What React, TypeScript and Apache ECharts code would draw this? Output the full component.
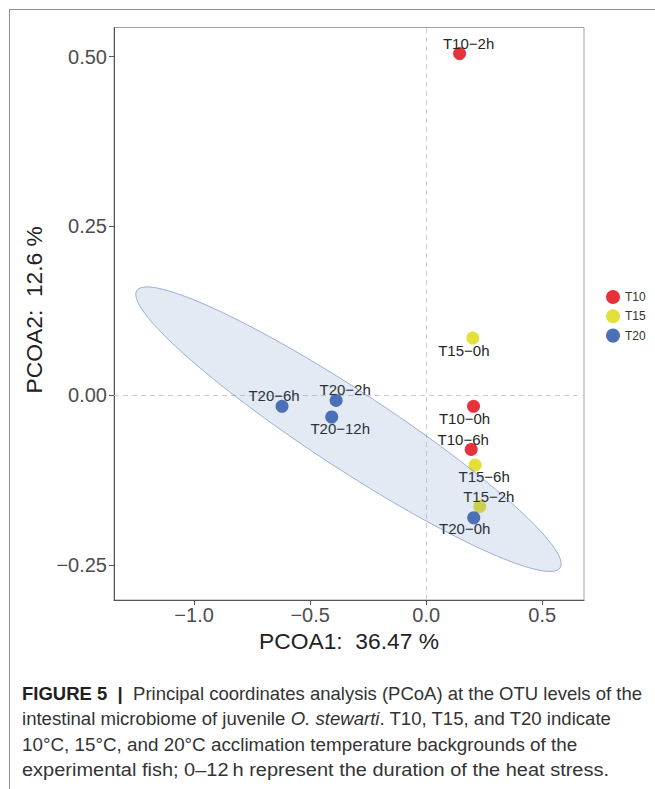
import React, { useEffect, useRef } from "react";
import * as echarts from "echarts";

// ---- data ----
const groups = ["T10", "T15", "T20"];
const t10Names = ["T10−2h", "T10−0h", "T10−6h"];
const t10X = [0.144, 0.204, 0.194];
const t10Y = [0.5045, -0.0162, -0.0797];
const t15Names = ["T15−0h", "T15−6h", "T15−2h"];
const t15X = [0.201, 0.211, 0.231];
const t15Y = [0.0847, -0.1028, -0.1639];
const t20Names = ["T20−0h", "T20−6h", "T20−2h", "T20−12h"];
const t20X = [0.205, -0.621, -0.388, -0.407];
const t20Y = [-0.1806, -0.0162, -0.0074, -0.0319];
const xTicks = [-1.0, -0.5, 0.0, 0.5];
const yTicks = [-0.25, 0.0, 0.25, 0.5];
// T20 confidence ellipse (data units): centre, semi-major and semi-minor vectors
const ellipseCenter = [-0.3348, -0.0499];
const ellipseMajor = [0.912, -0.2045];
const ellipseMinor = [-0.0902, -0.0477];

// ---- styles ----
const colors = ["#e8323a", "#e4e03a", "#4a70b8"];
const labelOffsets: Record<string, number[]> = {
  "T10−2h": [9, -10],
  "T10−0h": [-9, 12],
  "T10−6h": [-8, -10],
  "T15−0h": [-9, 12],
  "T15−6h": [9, 11],
  "T15−2h": [9, -10],
  "T20−0h": [-9, 11],
  "T20−6h": [-8, -11],
  "T20−2h": [9, -11],
  "T20−12h": [8.5, 11],
};
const FONT = "'Liberation Sans', Arial, Helvetica, sans-serif";

const fmt = (v: number, d: number) => {
  const s = Math.abs(v).toFixed(d);
  return v < -1e-9 ? "−" + s : s;
};

function buildPoints(names: string[], xs: number[], ys: number[]) {
  return names.map((n, i) => ({ name: n, value: [xs[i], ys[i]] }));
}

export default function App() {
  const ref = useRef<HTMLDivElement>(null);
  useEffect(() => {
    if (!ref.current) return;
    const chart = echarts.init(ref.current, undefined, { renderer: "svg" });
    const nameLists = [t10Names, t15Names, t20Names];
    const pointSeries = [
      buildPoints(t10Names, t10X, t10Y),
      buildPoints(t15Names, t15X, t15Y),
      buildPoints(t20Names, t20X, t20Y),
    ].map((data, gi) => ({
      type: "scatter",
      name: groups[gi],
      data,
      symbol: "circle",
      symbolSize: 13,
      z: 3,
      itemStyle: { color: colors[gi], opacity: 1 },
      label: {
        show: true,
        position: "inside",
        formatter: (p: any) => p.name,
        color: "#262626",
        fontSize: 15,
        fontFamily: FONT,
      },
      labelLayout: (p: any) => {
        const off = labelOffsets[nameLists[gi][p.dataIndex]] || [0, 0];
        return { dx: off[0], dy: off[1], hideOverlap: false };
      },
      markLine:
        gi === 0
          ? {
              silent: true,
              symbol: "none",
              label: { show: false },
              lineStyle: { color: "#cfcfcf", type: [5, 4], width: 1 },
              data: [{ xAxis: 0 }, { yAxis: 0 }],
              z: 1,
            }
          : undefined,
    }));

    const ellipseSeries = {
      type: "custom",
      name: "ellipse",
      z: 4,
      silent: true,
      data: [ellipseCenter],
      renderItem: (params: any, api: any) => {
        const cx = api.value(0);
        const cy = api.value(1);
        const pts: number[][] = [];
        const n = 180;
        for (let i = 0; i <= n; i++) {
          const t = (2 * Math.PI * i) / n;
          const dx = ellipseMajor[0] * Math.cos(t) + ellipseMinor[0] * Math.sin(t);
          const dy = ellipseMajor[1] * Math.cos(t) + ellipseMinor[1] * Math.sin(t);
          pts.push(api.coord([cx + dx, cy + dy]));
        }
        return {
          type: "polygon",
          shape: { points: pts },
          style: {
            fill: "rgba(74,112,184,0.15)",
            stroke: "rgba(74,112,184,0.75)",
            lineWidth: 0.7,
          },
        };
      },
    };

    const capY = [693.5, 719, 744.5, 770];
    const capScaleX = [1.0, 1.005, 1.018, 1.08];
    const CS = 18.5;
    const capRich = {
      b: { fontWeight: "bold", fontSize: CS, fontFamily: FONT, fill: "#231f20" },
      n: { fontSize: CS, fontFamily: FONT, fill: "#333333" },
      i: { fontSize: CS, fontStyle: "italic", fontFamily: FONT, fill: "#333333" },
    };
    const capLines = [
      "{b|FIGURE 5}{n|  }{b||}{n|  Principal coordinates analysis (PCoA) at the OTU levels of the}",
      "{n|intestinal microbiome of juvenile }{i|O. stewarti}{n|. T10, T15, and T20 indicate}",
      "{n|10°C, 15°C, and 20°C acclimation temperature backgrounds of the}",
      "{n|experimental fish; 0–12\u2009h represent the duration of the heat stress.}",
    ];

    chart.setOption({
      animation: false,
      backgroundColor: "#ffffff",
      textStyle: { fontFamily: FONT },
      grid: {
        left: 114,
        right: 71,
        top: 27.5,
        bottom: 189,
        show: true,
        borderColor: "#a0a0a0",
        borderWidth: 1,
        backgroundColor: "transparent",
      },
      legend: {
        data: groups,
        orient: "vertical",
        left: 606,
        top: 290,
        padding: 0,
        itemWidth: 14,
        itemHeight: 14,
        itemGap: 5.3,
        icon: "circle",
        textStyle: { fontSize: 12, color: "#333", fontFamily: FONT },
      },
      xAxis: {
        type: "value",
        min: -1.345,
        max: 0.68,
        splitLine: { show: false },
        axisLine: { show: true, onZero: false, lineStyle: { color: "#555", width: 1 } },
        axisTick: { show: true, length: 5, customValues: xTicks, lineStyle: { color: "#555" } },
        axisLabel: {
          customValues: xTicks,
          formatter: (v: number) => fmt(v, 1),
          fontSize: 20,
          color: "#4d4d4d",
          margin: 5,
          fontFamily: FONT,
        },
        name: "PCOA1:  36.47 %",
        nameLocation: "middle",
        nameGap: 26,
        nameTextStyle: { fontSize: 22.8, color: "#222", fontFamily: FONT },
      },
      yAxis: {
        type: "value",
        min: -0.302,
        max: 0.543,
        splitLine: { show: false },
        axisLine: { show: true, onZero: false, lineStyle: { color: "#555", width: 1 } },
        axisTick: { show: true, length: 5, customValues: yTicks, lineStyle: { color: "#555" } },
        axisLabel: {
          customValues: yTicks,
          formatter: (v: number) => fmt(v, 2),
          fontSize: 20,
          color: "#4d4d4d",
          margin: 7,
          fontFamily: FONT,
        },
        name: "PCOA2:  12.6 %",
        nameLocation: "middle",
        nameGap: 65,
        nameTextStyle: {
          fontSize: 22.8,
          color: "#222",
          fontFamily: FONT,
          padding: [0, 0, 0, 8],
        },
      },
      graphic: [
        {
          type: "line",
          shape: { x1: 9.5, y1: 9.5, x2: 655, y2: 9.5 },
          style: { stroke: "#8c8c8c", lineWidth: 1 },
        },
        {
          type: "line",
          shape: { x1: 9.5, y1: 9.5, x2: 9.5, y2: 789 },
          style: { stroke: "#8c8c8c", lineWidth: 1 },
        },
        ...capLines.map((t, k) => ({
          type: "text",
          x: 22,
          y: capY[k],
          scaleX: capScaleX[k],
          style: {
            text: t,
            rich: capRich,
            verticalAlign: "middle",
            align: "left",
            fontSize: CS,
            fontFamily: FONT,
          },
        })),
      ],
      series: [...pointSeries, ellipseSeries],
    });
    return () => chart.dispose();
  }, []);
  return (
    <div
      ref={ref}
      style={{ position: "absolute", left: 0, top: 0, width: 655, height: 789 }}
    />
  );
}
